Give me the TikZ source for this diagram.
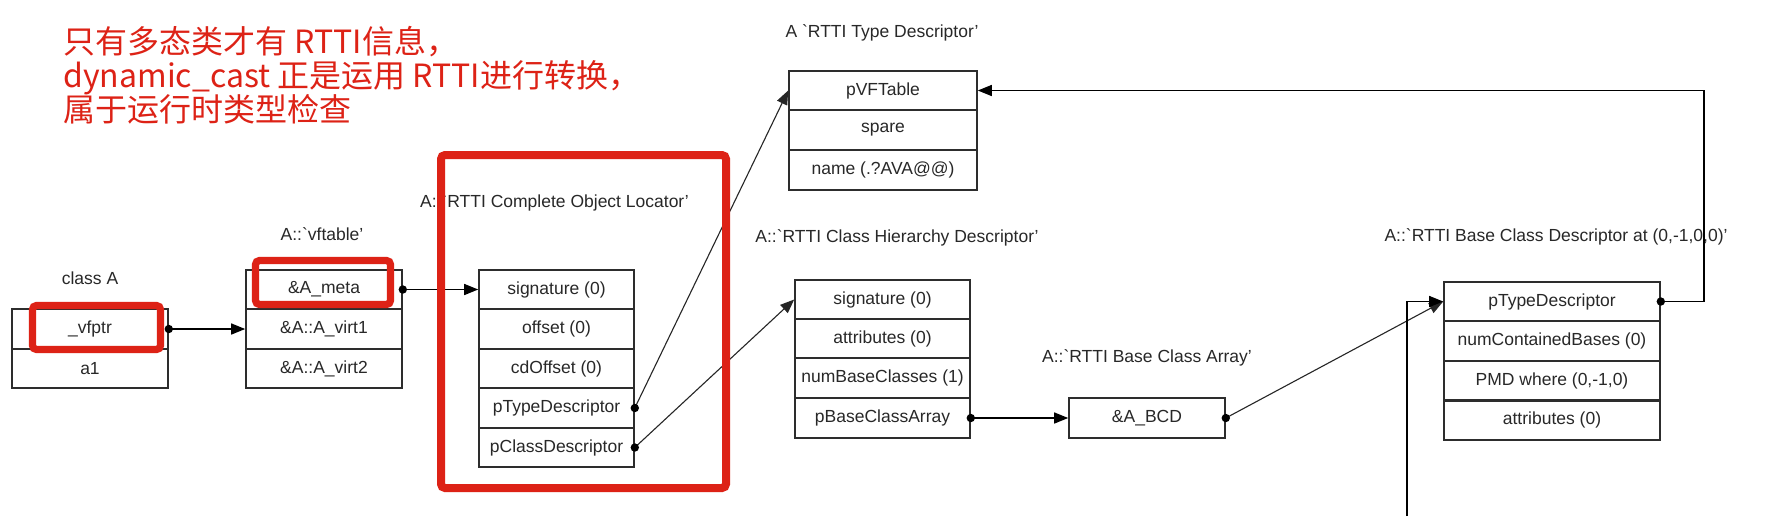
\documentclass[tikz,border=0pt]{standalone}
\usepackage{fontspec}
\setmainfont{Liberation Sans}
\newfontfamily\cjk{Noto Sans CJK SC}
\usetikzlibrary{arrows.meta}
\definecolor{myred}{RGB}{221,34,22}
\definecolor{boxline}{RGB}{45,45,45}
\definecolor{txt}{RGB}{40,40,40}
\begin{document}
\begin{tikzpicture}[x=0.5pt,y=-0.5pt,
  cell/.style={draw=boxline, line width=0.8pt, minimum height=19.75pt, inner sep=0pt,
    font=\fontsize{8.75}{10}\selectfont, text=txt},
  lbl/.style={font=\fontsize{8.75}{10}\selectfont, text=txt, inner sep=0pt},
  conn/.style={draw=black, line width=0.7pt, -{Triangle[length=7pt,width=5.5pt]}},
  diag/.style={draw=black!85, line width=0.55pt, -{Triangle[length=7pt,width=5.5pt]}},
  hl/.style={draw=myred, line width=3.6pt, rounded corners=2pt},
  note/.style={font=\cjk\fontsize{16}{17}\selectfont, text=myred, anchor=base west, inner sep=0pt}
]
\useasboundingbox (0,0) rectangle (1768,516);
\fill[white] (0,0) rectangle (1768,516);

% note text
\node[note] (n1) at (63,53) {只有多态类才有 RTTI信息，};
\node[note] (n2) at (63,87) {dynamic\_cast 正是运用 RTTI进行转换，};
\node[note] (n3) at (63,121) {属于运行时类型检查};

% class A
\node[lbl] (lA) at (90,278) {class A};
\node[cell, minimum width=78pt] (vfptr) at (90,329) {\_vfptr};
\node[cell, minimum width=78pt] (a1) at (90,368.5) {a1};

% vftable
\node[lbl] (lvt) at (322,234) {A::\textasciigrave vftable'};
\node[cell, minimum width=78pt] (meta) at (324,289.5) {\&A\_meta};
\node[cell, minimum width=78pt] (virt1) at (324,329) {\&A::A\_virt1};
\node[cell, minimum width=78pt] (virt2) at (324,368.5) {\&A::A\_virt2};

% complete object locator
\node[lbl] (lcol) at (554.5,203) {A::\textasciigrave RTTI Complete Object Locator'};
\node[cell, minimum width=77.5pt] (col1) at (556.5,289.5) {signature (0)};
\node[cell, minimum width=77.5pt] (col2) at (556.5,329) {offset (0)};
\node[cell, minimum width=77.5pt] (col3) at (556.5,368.5) {cdOffset (0)};
\node[cell, minimum width=77.5pt] (col4) at (556.5,408) {pTypeDescriptor};
\node[cell, minimum width=77.5pt] (col5) at (556.5,447.5) {pClassDescriptor};

% type descriptor
\node[lbl] (ltd) at (882,33) {A \textasciigrave RTTI Type Descriptor'};
\node[cell, minimum width=94pt] (td1) at (883,90.5) {pVFTable};
\node[cell, minimum width=94pt] (td2) at (883,130) {spare};
\node[cell, minimum width=94pt] (td3) at (883,170) {name (.?AVA@@)};

% class hierarchy descriptor
\node[lbl] (lchd) at (897,238) {A::\textasciigrave RTTI Class Hierarchy Descriptor'};
\node[cell, minimum width=87.5pt] (chd1) at (882.5,299.5) {signature (0)};
\node[cell, minimum width=87.5pt] (chd2) at (882.5,338.5) {attributes (0)};
\node[cell, minimum width=87.5pt] (chd3) at (882.5,378) {numBaseClasses (1)};
\node[cell, minimum width=87.5pt] (chd4) at (882.5,418) {pBaseClassArray};

% base class array
\node[lbl] (lbca) at (1147,358) {A::\textasciigrave RTTI Base Class Array'};
\node[cell, minimum width=78pt] (bca) at (1147,418) {\&A\_BCD};

% base class descriptor
\node[lbl] (lbcd) at (1556,237) {A::\textasciigrave RTTI Base Class Descriptor at (0,-1,0,0)'};
\node[cell, minimum width=108pt] (bcd1) at (1552,301.5) {pTypeDescriptor};
\node[cell, minimum width=108pt] (bcd2) at (1552,341) {numContainedBases (0)};
\node[cell, minimum width=108pt] (bcd3) at (1552,381) {PMD where (0,-1,0)};
\node[cell, minimum width=108pt] (bcd4) at (1552,420) {attributes (0)};

% connectors
\draw[conn] (vfptr.east) -- (virt1.west);
\draw[conn] (meta.east) -- (col1.west);
\draw[diag] (col4.east) -- (td1.west);
\draw[diag] (col5.east) -- (chd1.west);
\draw[conn] (chd4.east) -- (bca.west);
\draw[diag] (bca.east) -- (bcd1.west);
\draw[conn] (bcd1.east) -- ++(43,0) |- (td1.east);
\coordinate (bot) at (1407,516);
\draw[conn] (bot) |- (bcd1.west);

% dots
\foreach \n in {vfptr,meta,col4,col5,chd4,bca,bcd1}
  \fill (\n.east) circle (2.1pt);

% red highlights
\draw[hl] (32.5,305.5) rectangle (160.5,349.5);
\draw[hl] (255.5,260.5) rectangle (390.5,304.5);
\draw[hl, line width=4pt] (441,155) rectangle (726,488);
\end{tikzpicture}
\end{document}
